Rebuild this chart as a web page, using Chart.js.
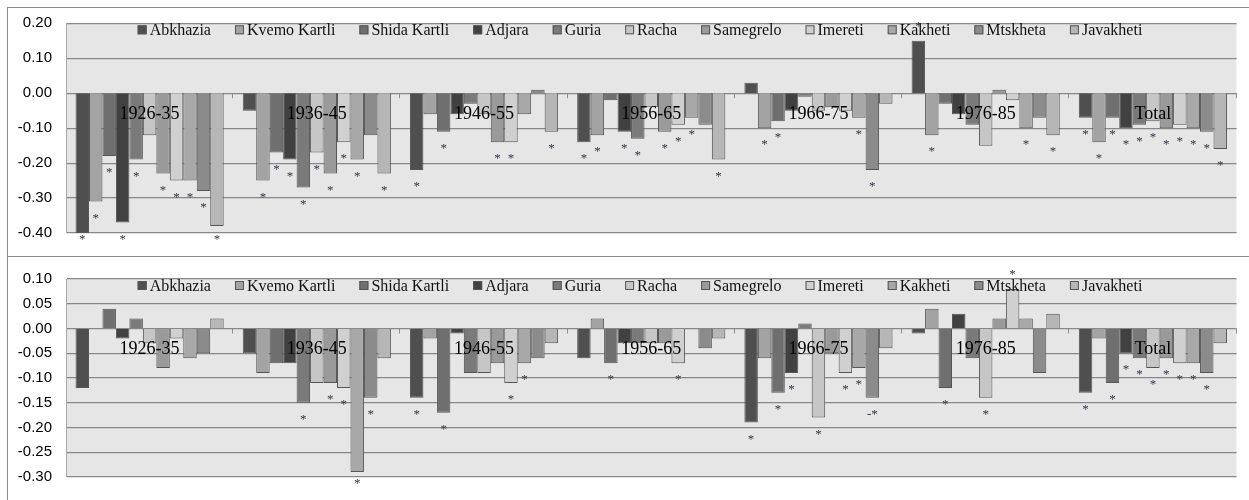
<!DOCTYPE html>
<html>
<head>
<meta charset="utf-8">
<script src="https://cdn.jsdelivr.net/npm/chart.js@4.4.0/dist/chart.umd.min.js"></script>
<style>
  body { margin:0; background:#fff; width:1249px; height:500px; overflow:hidden; position:relative; }
  .box { position:absolute; left:7px; width:1260px; border:1px solid #8c8c8c; border-right:none; }
  #boxA { top:7px; height:248px; }
  #boxB { top:256px; height:260px; border-top:none; }
  canvas { position:absolute; left:0; }
  #cA { top:0; }
  #cB { top:256px; }
</style>
</head>
<body>
<div class="box" id="boxA"></div>
<div class="box" id="boxB"></div>
<canvas id="cA" width="1249" height="256"></canvas>
<canvas id="cB" width="1249" height="244"></canvas>
<script>
const periods = ['1926-35', '1936-45', '1946-55', '1956-65', '1966-75', '1976-85', 'Total'];
const regions = ['Abkhazia', 'Kvemo Kartli', 'Shida Kartli', 'Adjara', 'Guria', 'Racha',
                 'Samegrelo', 'Imereti', 'Kakheti', 'Mtskheta', 'Javakheti'];
const colors  = ['#4f4f4f', '#a3a3a3', '#6f6f6f', '#414141', '#7a7a7a', '#c6c6c6',
                 '#9a9a9a', '#d0d0d0', '#a8a8a8', '#8b8b8b', '#b6b6b6'];

// upper panel
const abkhaziaA  = [-0.40, -0.05, -0.22, -0.14,  0.03,  0.15, -0.07];
const kvemoA     = [-0.31, -0.25, -0.06, -0.12, -0.10, -0.12, -0.14];
const shidaA     = [-0.18, -0.17, -0.11, -0.02, -0.08, -0.03, -0.07];
const adjaraA    = [-0.37, -0.19, -0.06, -0.11, -0.05, -0.06, -0.10];
const guriaA     = [-0.19, -0.27, -0.03, -0.13, -0.01, -0.09, -0.09];
const rachaA     = [-0.12, -0.17, -0.06, -0.04, -0.05, -0.15, -0.08];
const samegreloA = [-0.23, -0.23, -0.14, -0.11, -0.04,  0.01, -0.10];
const imeretiA   = [-0.25, -0.14, -0.14, -0.09, -0.05, -0.02, -0.09];
const kakhetiA   = [-0.25, -0.19, -0.06, -0.07, -0.07, -0.10, -0.10];
const mtskhetaA  = [-0.28, -0.12,  0.01, -0.09, -0.22, -0.07, -0.11];
const javakhetiA = [-0.38, -0.23, -0.11, -0.19, -0.03, -0.12, -0.16];

const starsAbkhaziaA  = ['*', '',  '*', '*', '',  '*', '*'];
const starsKvemoA     = ['*', '*', '',  '*', '*', '*', '*'];
const starsShidaA     = ['*', '*', '*', '',  '*', '',  '*'];
const starsAdjaraA    = ['*', '*', '',  '*', '',  '',  '*'];
const starsGuriaA     = ['*', '*', '',  '*', '',  '',  '*'];
const starsRachaA     = ['',  '*', '',  '',  '',  '',  '*'];
const starsSamegreloA = ['*', '*', '*', '*', '',  '',  '*'];
const starsImeretiA   = ['*', '*', '*', '*', '',  '',  '*'];
const starsKakhetiA   = ['*', '*', '',  '*', '*', '*', '*'];
const starsMtskhetaA  = ['*', '',  '',  '',  '*', '',  '*'];
const starsJavakhetiA = ['*', '*', '*', '*', '',  '*', '*'];

// lower panel
const abkhaziaB  = [-0.12, -0.05, -0.14, -0.06, -0.19, -0.01, -0.13];
const kvemoB     = [ 0.00, -0.09, -0.02,  0.02, -0.06,  0.04, -0.02];
const shidaB     = [ 0.04, -0.07, -0.17, -0.07, -0.13, -0.12, -0.11];
const adjaraB    = [-0.02, -0.07, -0.01, -0.03, -0.09,  0.03, -0.05];
const guriaB     = [ 0.02, -0.15, -0.09, -0.03,  0.01, -0.06, -0.06];
const rachaB     = [-0.03, -0.11, -0.09, -0.03, -0.18, -0.14, -0.08];
const samegreloB = [-0.08, -0.11, -0.07, -0.03, -0.05,  0.02, -0.06];
const imeretiB   = [-0.02, -0.12, -0.11, -0.07, -0.09,  0.08, -0.07];
const kakhetiB   = [-0.06, -0.29, -0.07,  0.00, -0.08,  0.02, -0.07];
const mtskhetaB  = [-0.05, -0.14, -0.06, -0.04, -0.14, -0.09, -0.09];
const javakhetiB = [ 0.02, -0.06, -0.03, -0.02, -0.04,  0.03, -0.03];

const starsAbkhaziaB  = ['', '',  '*', '',  '*',  '',  '*'];
const starsKvemoB     = ['', '',  '',  '',  '',   '',  ''];
const starsShidaB     = ['', '',  '*', '*', '*',  '*', '*'];
const starsAdjaraB    = ['', '',  '',  '',  '*',  '',  '*'];
const starsGuriaB     = ['', '*', '',  '',  '',   '',  '*'];
const starsRachaB     = ['', '',  '',  '',  '*',  '*', '*'];
const starsSamegreloB = ['', '*', '',  '',  '',   '',  '*'];
const starsImeretiB   = ['', '*', '*', '*', '*',  '*', '*'];
const starsKakhetiB   = ['', '*', '*', '',  '*',  '',  '*'];
const starsMtskhetaB  = ['', '*', '',  '',  '-*', '',  '*'];
const starsJavakhetiB = ['', '',  '',  '',  '',   '',  ''];

const valuesA = [abkhaziaA, kvemoA, shidaA, adjaraA, guriaA, rachaA, samegreloA, imeretiA, kakhetiA, mtskhetaA, javakhetiA];
const starsA  = [starsAbkhaziaA, starsKvemoA, starsShidaA, starsAdjaraA, starsGuriaA, starsRachaA,
                 starsSamegreloA, starsImeretiA, starsKakhetiA, starsMtskhetaA, starsJavakhetiA];
const valuesB = [abkhaziaB, kvemoB, shidaB, adjaraB, guriaB, rachaB, samegreloB, imeretiB, kakhetiB, mtskhetaB, javakhetiB];
const starsB  = [starsAbkhaziaB, starsKvemoB, starsShidaB, starsAdjaraB, starsGuriaB, starsRachaB,
                 starsSamegreloB, starsImeretiB, starsKakhetiB, starsMtskhetaB, starsJavakhetiB];

function makePanel(canvas, values, stars, min, max, step, pad) {
  const deco = {
    id: 'deco',
    beforeDraw(chart) {
      const { ctx, chartArea: a } = chart;
      ctx.save();
      ctx.fillStyle = '#e6e6e6';
      ctx.fillRect(a.left, a.top, a.right - a.left, a.bottom - a.top);
      ctx.restore();
    },
    afterDatasetsDraw(chart) {
      const { ctx, chartArea: a, scales: { x, y } } = chart;
      const y0 = y.getPixelForValue(0);
      ctx.save();
      // small ticks between the groups
      ctx.strokeStyle = '#8c8c8c'; ctx.lineWidth = 1;
      const w = (a.right - a.left) / periods.length;
      for (let i = 1; i <= periods.length; i++) {
        const px = Math.round(a.left + i * w) - 0.5;
        ctx.beginPath(); ctx.moveTo(px, y0); ctx.lineTo(px, y0 + 5); ctx.stroke();
      }
      // period labels sit on the zero line
      ctx.font = '18px "Liberation Serif"';
      ctx.fillStyle = '#000'; ctx.textAlign = 'center'; ctx.textBaseline = 'middle';
      periods.forEach((p, i) => ctx.fillText(p, x.getPixelForValue(i), y0 + 21));

      // legend inside the plot
      ctx.font = '16px "Liberation Serif"';
      ctx.textAlign = 'left';
      const gap = 24, box = 9;
      const widths = regions.map(r => ctx.measureText(r).width);
      const total = widths.reduce((s, v) => s + v, 0) + regions.length * (box + 3) + (regions.length - 1) * gap;
      let lx = 640 - total / 2;
      const ly = a.top + 6.5;
      regions.forEach((r, i) => {
        ctx.fillStyle = colors[i];
        ctx.fillRect(lx, ly - 4.5, box, box);
        ctx.strokeStyle = '#555';
        ctx.strokeRect(lx + 0.5, ly - 4, box - 1, box - 1);
        ctx.fillStyle = '#111';
        ctx.fillText(r, lx + box + 3, ly + 1);
        lx += box + 3 + widths[i] + gap;
      });

      // significance marks
      ctx.font = '13px "Liberation Serif"';
      ctx.fillStyle = '#33334a'; ctx.textAlign = 'center'; ctx.textBaseline = 'alphabetic';
      chart.data.datasets.forEach((ds, di) => {
        chart.getDatasetMeta(di).data.forEach((bar, i) => {
          const s = stars[di][i];
          if (!s) return;
          const cy = ds.data[i] > 0 ? bar.y - 17 : Math.min(bar.y + 13.5, a.bottom + 3);
          ctx.fillText(s, bar.x, cy + 6.5);
        });
      });
      ctx.restore();
    }
  };

  return new Chart(canvas, {
    type: 'bar',
    data: {
      labels: periods,
      datasets: regions.map((r, i) => ({
        label: r, data: values[i],
        backgroundColor: colors[i], borderColor: '#555', borderWidth: 1,
        categoryPercentage: 0.886, barPercentage: 1.0,
      })),
    },
    options: {
      responsive: false, animation: false,
      layout: { padding: pad },
      plugins: { legend: { display: false }, tooltip: { enabled: false } },
      scales: {
        x: { display: false },
        y: {
          min, max,
          ticks: { stepSize: step, padding: 14, color: '#000',
                   font: { family: 'Liberation Sans', size: 15 },
                   callback: v => (Math.abs(v) < 1e-9 ? 0 : v).toFixed(2) },
          grid: { color: '#888', lineWidth: 1.2, drawTicks: false },
          border: { display: true, color: '#a6a6a6' },
          afterFit: s => { s.width = 66; },
        },
      },
    },
    plugins: [deco],
  });
}

makePanel(document.getElementById('cA'), valuesA, starsA, -0.4, 0.2, 0.1,
  { left: 0, right: 12.5, top: 23.3, bottom: 17 });
makePanel(document.getElementById('cB'), valuesB, starsB, -0.3, 0.1, 0.05,
  { left: 0, right: 12.5, top: 17.3, bottom: 11 });
</script>
</body>
</html>
